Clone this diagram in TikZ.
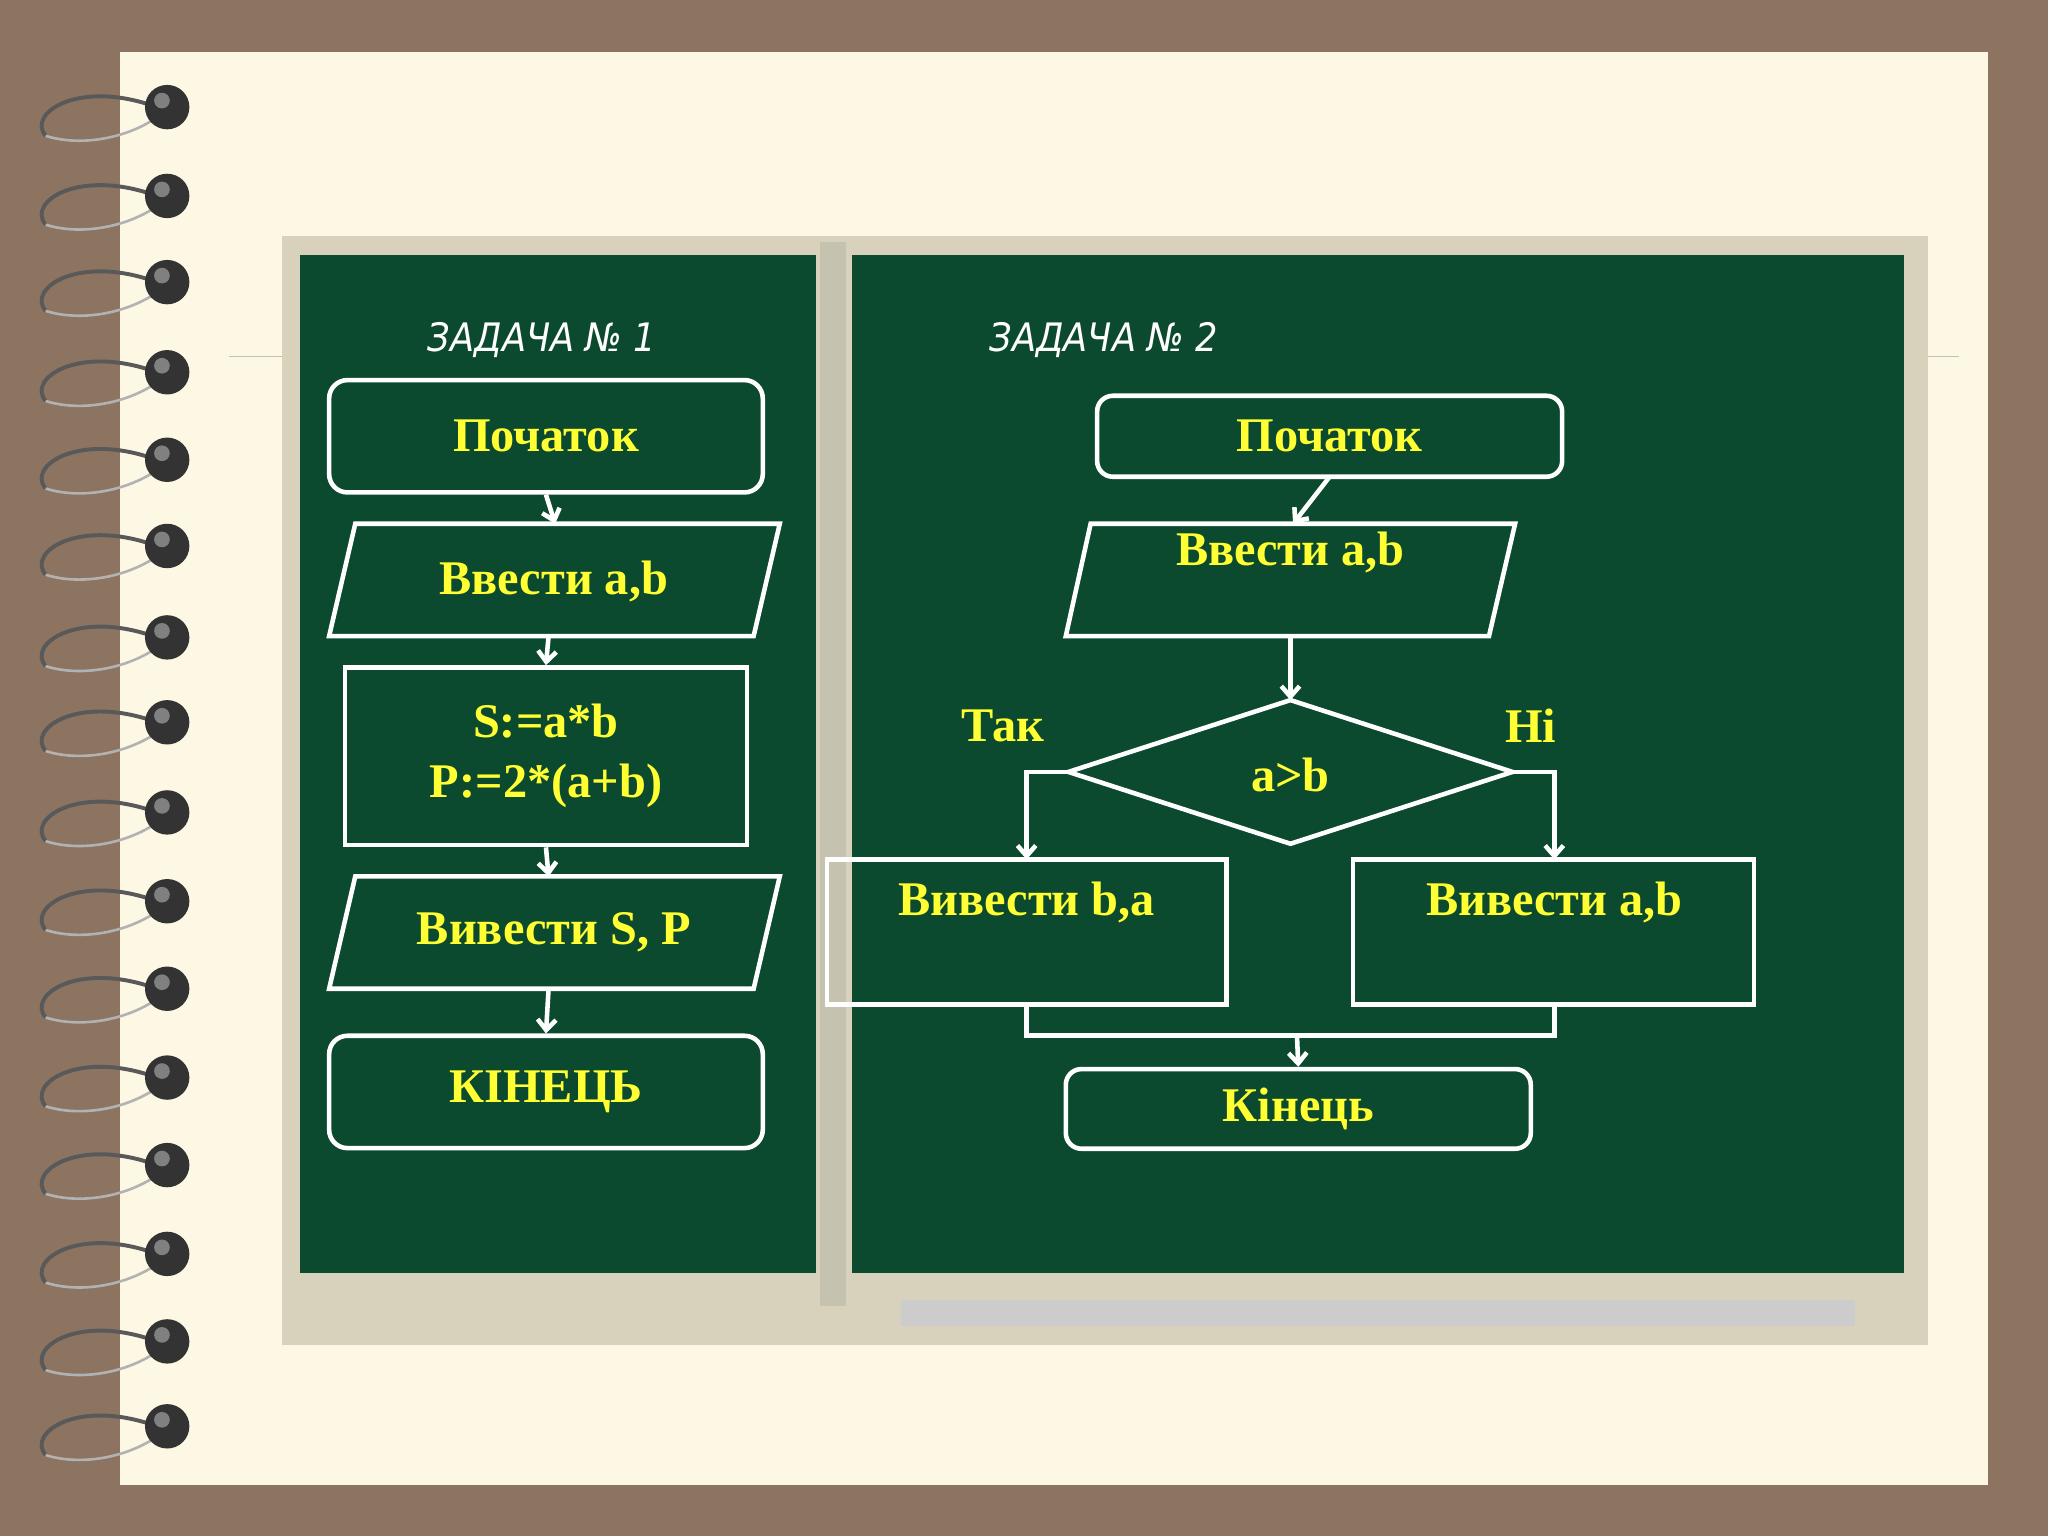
\documentclass[tikz,border=0pt]{standalone}
\usepackage{fontspec}
\setmainfont{Liberation Serif}
\newfontfamily\hand{DejaVu Sans Condensed}
\usetikzlibrary{arrows.meta,shapes.geometric}
\definecolor{bgbrown}{HTML}{8C7460}
\definecolor{paper}{HTML}{FDF8E4}
\definecolor{board}{HTML}{0B4A2F}
\definecolor{frame}{HTML}{D8D2BC}
\definecolor{chalk}{HTML}{FFFF33}
\tikzset{
  x=1pt,y=-1pt,
  ln/.style={draw=white,line width=3.5pt},
  arr/.style={ln,-{Straight Barb[length=8pt,width=14pt]}},
  txt/.style={text=chalk,font=\bfseries\fontsize{37}{46}\selectfont},
  ttl/.style={text=white,font=\hand\itshape\fontsize{30}{34}\selectfont}
}
\begin{document}
\begin{tikzpicture}
\fill[bgbrown] (0,0) rectangle (1568,1176);
\fill[paper] (92,40) rectangle (1522,1137);
\draw[gray!50,line width=0.8pt] (175,273) -- (1500,273);
% rings
\foreach \y in {82,150,216,285,352,418,488,553,622,690,757,825,892,960,1027,1092}{
  \draw[gray!70!black,line width=3pt] (120,\y) .. controls (60,\y-22) and (20,\y+5) .. (35,\y+22);
  \draw[gray!60,line width=2pt] (35,\y+22) .. controls (60,\y+30) and (95,\y+25) .. (120,\y+8);
  \fill[black!80] (128,\y) circle (17);
  \fill[gray] (124,\y-5) circle (6);
}
% board
\fill[frame] (216,181) rectangle (1476,1030);
\fill[board] (230,195) rectangle (625,975);
\fill[board] (652,195) rectangle (1458,975);
\fill[frame!80!gray] (628,185) rectangle (648,1000);
\fill[gray!40] (690,995) rectangle (1420,1015);
% task 1
\node[ttl] (t1) at (415,260) {ЗАДАЧА № 1};
\node[ln,rounded corners=14pt,minimum width=332,minimum height=86,txt] (a1) at (418,334) {Початок};
\draw[ln] (272,401) coordinate (p1a) -- (597,401) -- (577,487) -- (252,487) -- cycle;
\node[txt] (a2) at (424,445) {Ввести a,b};
\node[ln,minimum width=308,minimum height=136,txt,align=center] (a3) at (418,579) {S:=a*b\\P:=2*(a+b)};
\draw[ln] (272,671) -- (597,671) -- (577,757) -- (252,757) -- cycle;
\node[txt] (a4) at (424,714) {Вивести S, P};
\node[ln,rounded corners=14pt,minimum width=332,minimum height=86,txt] (a5) at (418,836) {КІНЕЦЬ};
\coordinate (b1) at (425,401); \coordinate (b2) at (420,487);
\coordinate (b3) at (420,671); \coordinate (b4) at (420,757);
\draw[arr] (a1.south) -- (b1);
\draw[arr] (b2) -- (a3.north);
\draw[arr] (a3.south) -- (b3);
\draw[arr] (b4) -- (a5.north);
% task 2
\node[ttl] (t2) at (845,260) {ЗАДАЧА № 2};
\node[ln,rounded corners=12pt,minimum width=356,minimum height=62,txt] (c1) at (1018,334) {Початок};
\draw[ln] (835,401) -- (1160,401) -- (1140,487) -- (816,487) -- cycle;
\node[txt] (c2) at (988,423) {Ввести a,b};
\coordinate (c2t) at (990,401); \coordinate (c2b) at (988,487);
\draw[arr] (1018,365) -- (c2t);
\draw[ln] (818,591) coordinate (dl) -- (988,536) coordinate (dt) -- (1158,591) coordinate (dr) -- (988,646) -- cycle;
\node[txt] (d) at (988,593) {a>b};
\draw[arr] (c2b) -- (dt);
\node[txt] (yes) at (768,556) {Так};
\node[txt] (no) at (1172,556) {Ні};
\draw[ln] (633,658) rectangle (939,769);
\coordinate (e1) at (786,658); \coordinate (e1b) at (786,769);
\node[txt] (e1t) at (786,691) {Вивести b,a};
\draw[ln] (1036,658) rectangle (1343,769);
\coordinate (e2) at (1190,658); \coordinate (e2b) at (1190,769);
\node[txt] (e2t) at (1190,691) {Вивести a,b};
\draw[arr] (dl) -| (e1);
\draw[arr] (dr) -| (e2);
\draw[ln] (e1b) |- (993,793) coordinate (m) -| (e2b);
\node[ln,rounded corners=12pt,minimum width=356,minimum height=61,txt] (f) at (994,849) {Кінець};
\draw[arr] (m) -- (f.north);
\end{tikzpicture}
\end{document}
